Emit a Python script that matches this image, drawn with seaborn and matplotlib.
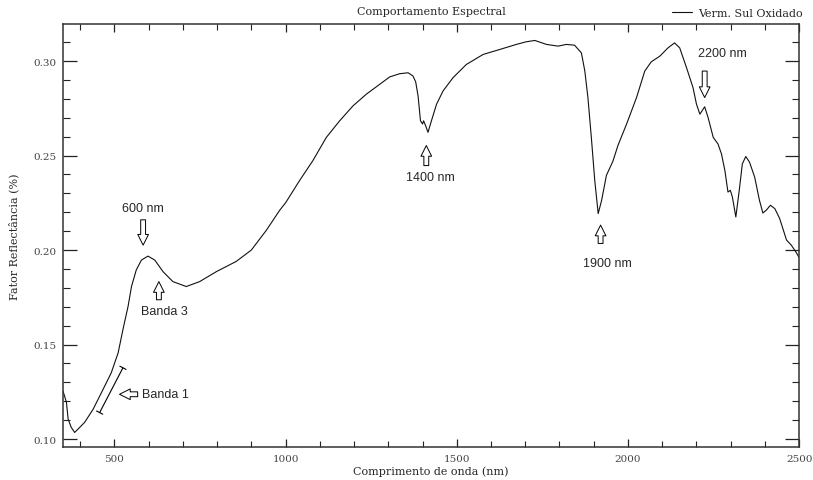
import numpy as np
import pandas as pd
import matplotlib
matplotlib.use("Agg")
import matplotlib.pyplot as plt
from matplotlib.ticker import MultipleLocator
import seaborn as sns

# spectral curve (nm, reflectance)
wavelength = [350, 360, 365, 374, 384, 394, 413, 438, 467, 491, 511, 525, 540, 550,
              564, 579, 598, 618, 642, 671, 710, 749, 798, 856, 900, 944, 983, 1000,
              1041, 1080, 1119, 1158, 1197, 1236, 1275, 1304, 1333, 1358, 1372, 1380,
              1387, 1394, 1400, 1403, 1409, 1416, 1426, 1441, 1460, 1489, 1528, 1577,
              1625, 1674, 1703, 1728, 1762, 1796, 1820, 1844, 1864, 1874, 1883, 1893,
              1903, 1913, 1923, 1937, 1956, 1971, 1996, 2025, 2049, 2068, 2093, 2117,
              2136, 2151, 2171, 2190, 2200, 2210, 2224, 2234, 2249, 2263, 2273, 2283,
              2292, 2299, 2305, 2315, 2325, 2334, 2344, 2355, 2370, 2384, 2394, 2404,
              2416, 2429, 2443, 2463, 2477, 2490, 2500]
reflectance = [0.1254, 0.1195, 0.1105, 0.1062, 0.1035, 0.1053, 0.1088, 0.1158, 0.1263,
               0.1351, 0.1456, 0.1579, 0.1702, 0.1807, 0.1895, 0.1947, 0.1968, 0.1947,
               0.1886, 0.1833, 0.1807, 0.1833, 0.1886, 0.1940, 0.2000, 0.2105, 0.2211,
               0.2250, 0.2368, 0.2474, 0.2596, 0.2684, 0.2763, 0.2825, 0.2877, 0.2916,
               0.2933, 0.2938, 0.2921, 0.2890, 0.2815, 0.2684, 0.2667, 0.2684, 0.2658,
               0.2623, 0.2684, 0.2772, 0.2842, 0.2912, 0.2982, 0.3035, 0.3061, 0.3088,
               0.3102, 0.3109, 0.3088, 0.3079, 0.3088, 0.3084, 0.3043, 0.2947, 0.2807,
               0.2596, 0.2368, 0.2193, 0.2263, 0.2395, 0.2470, 0.2555, 0.2667, 0.2807,
               0.2947, 0.2996, 0.3026, 0.3070, 0.3096, 0.3070, 0.2965, 0.2859, 0.2772,
               0.2719, 0.2758, 0.2701, 0.2596, 0.2561, 0.2509, 0.2421, 0.2307, 0.2316,
               0.2280, 0.2175, 0.2316, 0.2456, 0.2495, 0.2465, 0.2386, 0.2263, 0.2196,
               0.2211, 0.2237, 0.2219, 0.2167, 0.2053, 0.2026, 0.1991, 0.1960]

series_name = "Verm. Sul Oxidado"

# annotation labels: (text, text position, arrow tail, arrow head)
labels = [
    ("600 nm", (583, 0.2221), (584, 0.2160), (584, 0.2026)),
    ("Banda 3", (647, 0.1680), (630, 0.1737), (630, 0.1833)),
    ("1400 nm", (1422, 0.2386), (1411, 0.2447), (1411, 0.2553)),
    ("1900 nm", (1939, 0.1930), (1920, 0.2035), (1920, 0.2132)),
    ("2200 nm", (2275, 0.3044), (2224, 0.2947), (2224, 0.2807)),
]

df = pd.DataFrame({"nm": wavelength, "refl": reflectance, "serie": series_name})

sns.set_style("white")
serif = ["DejaVu Serif"]
sans = ["Liberation Sans", "DejaVu Sans"]

fig = plt.figure(figsize=(8.13, 4.81), dpi=100)
ax = fig.add_axes([0.0775, 0.0686, 0.9055, 0.8794])

sns.lineplot(data=df, x="nm", y="refl", hue="serie", palette=["#111111"],
             linewidth=0.8, ax=ax, sort=False)

ax.set_xlim(350, 2500)
ax.set_ylim(0.0958, 0.3196)
ax.xaxis.set_major_locator(MultipleLocator(500))
ax.xaxis.set_minor_locator(MultipleLocator(100))
ax.yaxis.set_major_locator(MultipleLocator(0.05))
ax.yaxis.set_minor_locator(MultipleLocator(0.01))
ax.xaxis.set_major_formatter(matplotlib.ticker.FuncFormatter(lambda v, p: f"{v:.0f}"))
ax.yaxis.set_major_formatter(matplotlib.ticker.FuncFormatter(lambda v, p: f"{v:.2f}"))

ax.tick_params(axis="x", which="major", direction="in", length=6, width=0.9,
               top=True, bottom=True, color="#222222", labelsize=7.5, pad=5)
ax.tick_params(axis="x", which="minor", direction="in", length=4, width=0.8,
               top=True, bottom=True, color="#222222")
ax.tick_params(axis="y", which="major", direction="in", length=10, width=0.9,
               left=True, right=True, color="#222222", labelsize=7.5, pad=5)
ax.tick_params(axis="y", which="minor", direction="in", length=5, width=0.8,
               left=True, right=True, color="#222222")
for lab in ax.get_xticklabels() + ax.get_yticklabels():
    lab.set_family(serif)
    lab.set_color("#444444")

for sp in ax.spines.values():
    sp.set_color("#333333")
    sp.set_linewidth(1.1)

ax.set_title("Comportamento Espectral", fontsize=8, family=serif, pad=7)
ax.set_xlabel("Comprimento de onda (nm)", fontsize=8, family=serif, labelpad=2)
ax.set_ylabel("Fator Reflectância (%)", fontsize=8, family=serif, labelpad=10)

leg = ax.legend(loc="lower right", bbox_to_anchor=(1.015, 0.995), frameon=False,
                handlelength=1.8, handletextpad=0.5, borderpad=0.2,
                prop={"family": serif, "size": 8})

arrow_style = dict(arrowstyle="simple,head_length=0.55,head_width=0.55,tail_width=0.25",
                   fc="white", ec="black", lw=0.7, shrinkA=0, shrinkB=0,
                   mutation_scale=14)

for text, tpos, tail, head in labels:
    ax.text(tpos[0], tpos[1], text, ha="center", va="center", fontsize=9, family=sans)
    ax.annotate("", xy=head, xytext=tail, arrowprops=arrow_style)

# Banda 1: bracket along the curve plus a left arrow
ax.annotate("", xy=(457, 0.1140), xytext=(525, 0.1377),
            arrowprops=dict(arrowstyle="|-|,widthA=0.25,widthB=0.25", color="black",
                            lw=0.8, shrinkA=0, shrinkB=0))
ax.annotate("", xy=(515, 0.1237), xytext=(568, 0.1237), arrowprops=arrow_style)
ax.text(582, 0.1237, "Banda 1", ha="left", va="center", fontsize=9, family=sans)

fig.savefig("out.png", dpi=100, facecolor="white")
